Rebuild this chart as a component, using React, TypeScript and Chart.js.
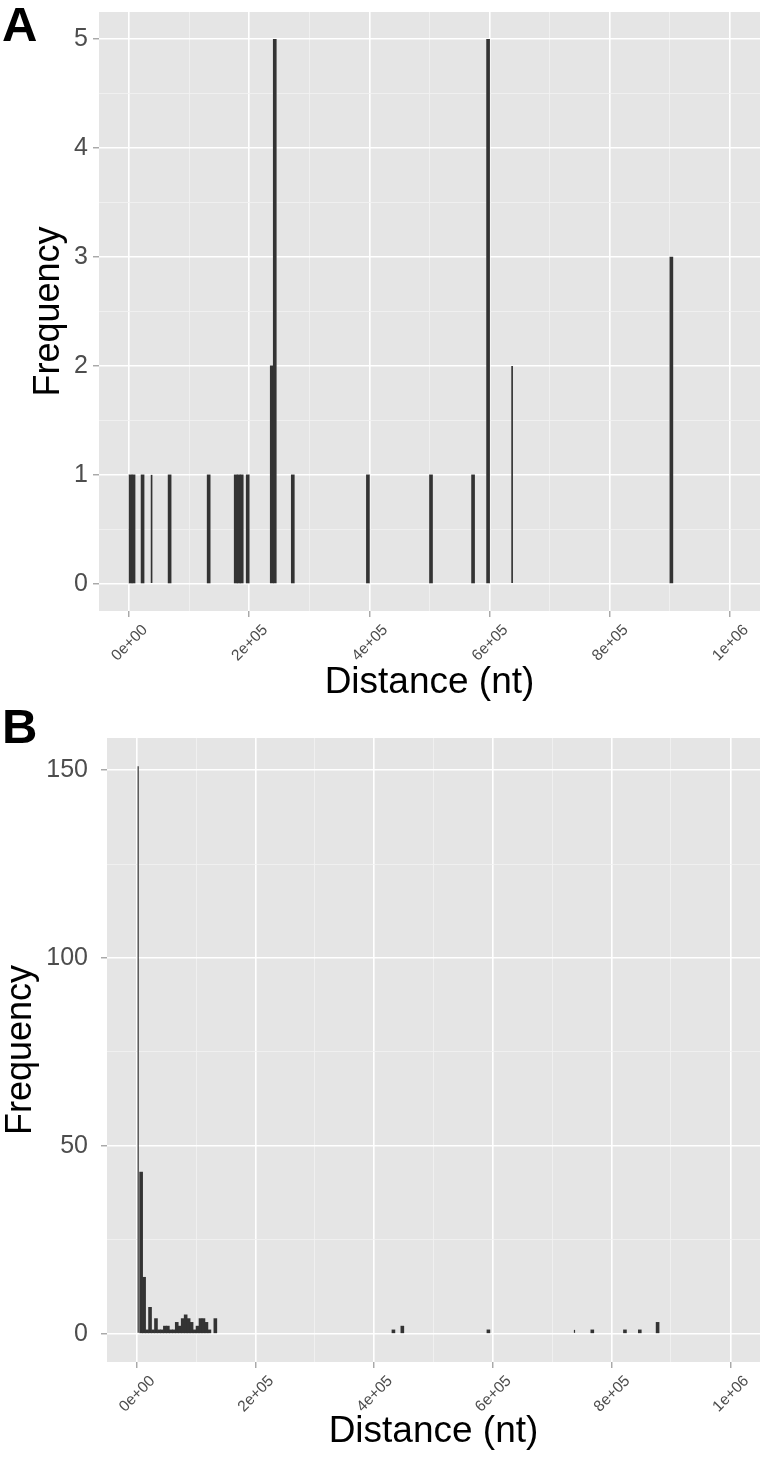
import React, { useEffect, useRef } from 'react';
import { Chart, registerables } from 'chart.js';

Chart.register(...registerables);

// ---------- shared axis data ----------
const BIN_WIDTH = 5000;
const X_MIN = -50000;
const X_MAX = 1050000;
const X_MAJOR_TICKS = [0, 200000, 400000, 600000, 800000, 1000000];
const X_MAJOR_LABELS = ['0e+00', '2e+05', '4e+05', '6e+05', '8e+05', '1e+06'];
const X_MINOR_TICKS = [100000, 300000, 500000, 700000, 900000];
const X_TITLE = 'Distance (nt)';
const Y_TITLE = 'Frequency';

// ---------- panel A ----------
const A_BIN_STARTS = [0, 5000, 20000, 65000, 130000, 175000, 180000, 185000, 195000, 235000, 240000, 270000, 395000, 500000, 570000, 595000, 900000];
const A_COUNTS = [1, 1, 1, 1, 1, 1, 1, 1, 1, 2, 5, 1, 1, 1, 1, 5, 3];
const A_THIN_BIN_STARTS = [35000, 635000];
const A_THIN_COUNTS = [1, 2];
const A_Y_MIN = -0.25;
const A_Y_MAX = 5.25;
const A_Y_MAJOR = [0, 1, 2, 3, 4, 5];
const A_Y_LABELS = ['0', '1', '2', '3', '4', '5'];
const A_Y_MINOR = [0.5, 1.5, 2.5, 3.5, 4.5];

// ---------- panel B ----------
const B_BIN_STARTS = [5000, 10000, 15000, 20000, 25000, 30000, 35000, 40000, 45000, 50000, 55000, 60000, 65000, 70000, 75000, 80000, 85000, 90000, 95000, 100000, 105000, 110000, 115000, 120000, 130000, 430000, 445000, 590000, 765000, 820000, 845000, 875000];
const B_COUNTS = [43, 15, 1, 7, 1, 4, 1, 1, 2, 2, 1, 1, 3, 2, 4, 5, 4, 3, 1, 2, 4, 4, 3, 1, 4, 1, 2, 1, 1, 1, 1, 3];
const B_THIN_BIN_STARTS = [0, 735000];
const B_THIN_COUNTS = [151, 1];
const B_Y_MIN = -7.55;
const B_Y_MAX = 158.55;
const B_Y_MAJOR = [0, 50, 100, 150];
const B_Y_LABELS = ['0', '50', '100', '150'];
const B_Y_MINOR = [25, 75, 125];

// ---------- style ----------
const FONT = '"Liberation Sans", Arial, Helvetica, sans-serif';
const PANEL_BG = '#E5E5E5';
const MAJOR_GRID = '#FFFFFF';
const MINOR_GRID = '#F2F2F2';
const BAR_COLOR = '#333333';
const TICK_TEXT = '#4D4D4D';
const TICK_MARK = '#8C8C8C';

type PanelSpec = {
  binStarts: number[];
  counts: number[];
  thinStarts: number[];
  thinCounts: number[];
  thinPct: number;
  yMin: number;
  yMax: number;
  yMajor: number[];
  yLabels: string[];
  yMinor: number[];
  width: number;
  height: number;
  padTop: number;
  yAxisWidth: number;
  xAxisHeight: number;
  yTickPadding: number;
  yTitlePad: number;
  xTitlePad: number;
};

const panelBg = {
  id: 'panelBg',
  beforeDraw(chart: any) {
    const { ctx, chartArea: a } = chart;
    ctx.save();
    ctx.fillStyle = PANEL_BG;
    ctx.fillRect(a.left, a.top, a.right - a.left, a.bottom - a.top);
    ctx.restore();
  },
};

function gridOpts(minor: number[]) {
  const isMinor = (c: any) => c && c.tick && minor.includes(c.tick.value);
  return {
    offset: false,
    drawOnChartArea: true,
    drawTicks: true,
    tickLength: 6,
    color: (c: any) => (isMinor(c) ? MINOR_GRID : MAJOR_GRID),
    lineWidth: (c: any) => (isMinor(c) ? 0.8 : 1.6),
    tickColor: (c: any) => (isMinor(c) ? 'rgba(0,0,0,0)' : TICK_MARK),
    tickWidth: 1.1,
  };
}

function HistPanel({ spec, top }: { spec: PanelSpec; top: number }) {
  const ref = useRef<HTMLCanvasElement | null>(null);
  useEffect(() => {
    if (!ref.current) return;
    const mainData = spec.binStarts.map((s, i) => ({ x: s + BIN_WIDTH / 2, y: spec.counts[i] }));
    const thinData = spec.thinStarts.map((s, i) => ({ x: s + BIN_WIDTH / 2, y: spec.thinCounts[i] }));
    const xTicks = [...X_MAJOR_TICKS, ...X_MINOR_TICKS].sort((a, b) => a - b);
    const yTicks = [...spec.yMajor, ...spec.yMinor].sort((a, b) => a - b);
    const chart = new Chart(ref.current, {
      type: 'bar',
      data: {
        datasets: [
          {
            data: mainData as any,
            backgroundColor: BAR_COLOR,
            borderWidth: 0,
            grouped: false,
            barPercentage: 1,
            categoryPercentage: 1,
          } as any,
          {
            data: thinData as any,
            backgroundColor: BAR_COLOR,
            borderWidth: 0,
            grouped: false,
            barPercentage: spec.thinPct,
            categoryPercentage: 1,
          } as any,
        ],
      },
      options: {
        responsive: false,
        animation: false,
        events: [],
        layout: { padding: { top: spec.padTop, right: 3, left: 0, bottom: 0 } },
        plugins: { legend: { display: false }, tooltip: { enabled: false } },
        scales: {
          x: {
            type: 'linear',
            min: X_MIN,
            max: X_MAX,
            offset: false,
            afterBuildTicks: (scale: any) => {
              scale.ticks = xTicks.map((v) => ({ value: v }));
            },
            afterFit: (scale: any) => {
              scale.height = spec.xAxisHeight;
              scale.paddingLeft = 0;
              scale.paddingRight = 0;
            },
            grid: gridOpts(X_MINOR_TICKS) as any,
            border: { display: false },
            ticks: {
              autoSkip: false,
              minRotation: 45,
              maxRotation: 45,
              padding: 4,
              labelOffset: 16,
              color: TICK_TEXT,
              font: { family: FONT, size: 15.5 },
              callback: (v: any) => {
                const i = X_MAJOR_TICKS.indexOf(Number(v));
                return i >= 0 ? X_MAJOR_LABELS[i] : '';
              },
            },
            title: {
              display: true,
              text: X_TITLE,
              color: '#000000',
              font: { family: FONT, size: 37, lineHeight: 1 },
              padding: { top: 0, bottom: spec.xTitlePad },
            },
          },
          y: {
            type: 'linear',
            min: spec.yMin,
            max: spec.yMax,
            afterBuildTicks: (scale: any) => {
              scale.ticks = yTicks.map((v) => ({ value: v }));
            },
            afterFit: (scale: any) => {
              scale.width = spec.yAxisWidth;
              scale.paddingTop = 0;
              scale.paddingBottom = 0;
            },
            grid: gridOpts(spec.yMinor) as any,
            border: { display: false },
            ticks: {
              autoSkip: false,
              padding: spec.yTickPadding,
              color: TICK_TEXT,
              font: { family: FONT, size: 25 },
              callback: (v: any) => {
                const i = spec.yMajor.indexOf(Number(v));
                return i >= 0 ? spec.yLabels[i] : '';
              },
            },
            title: {
              display: true,
              text: Y_TITLE,
              color: '#000000',
              font: { family: FONT, size: 36, lineHeight: 1 },
              padding: { top: spec.yTitlePad, bottom: 0 },
            },
          },
        },
      } as any,
      plugins: [panelBg],
    });
    return () => chart.destroy();
  }, [spec]);
  return (
    <canvas
      ref={ref}
      width={spec.width}
      height={spec.height}
      style={{ position: 'absolute', left: 0, top, width: spec.width, height: spec.height, display: 'block' }}
    />
  );
}

const SPEC_A: PanelSpec = {
  binStarts: A_BIN_STARTS,
  counts: A_COUNTS,
  thinStarts: A_THIN_BIN_STARTS,
  thinCounts: A_THIN_COUNTS,
  thinPct: 0.55,
  yMin: A_Y_MIN,
  yMax: A_Y_MAX,
  yMajor: A_Y_MAJOR,
  yLabels: A_Y_LABELS,
  yMinor: A_Y_MINOR,
  width: 763,
  height: 705,
  padTop: 12,
  yAxisWidth: 99,
  xAxisHeight: 94,
  yTickPadding: 5,
  yTitlePad: 31,
  xTitlePad: 3.5,
};

const SPEC_B: PanelSpec = {
  binStarts: B_BIN_STARTS,
  counts: B_COUNTS,
  thinStarts: B_THIN_BIN_STARTS,
  thinCounts: B_THIN_COUNTS,
  thinPct: 0.4,
  yMin: B_Y_MIN,
  yMax: B_Y_MAX,
  yMajor: B_Y_MAJOR,
  yLabels: B_Y_LABELS,
  yMinor: B_Y_MINOR,
  width: 763,
  height: 752,
  padTop: 33,
  yAxisWidth: 107,
  xAxisHeight: 95,
  yTickPadding: 13,
  yTitlePad: 3,
  xTitlePad: 7,
};

const letterStyle: React.CSSProperties = {
  position: 'absolute',
  left: 2,
  fontFamily: FONT,
  fontWeight: 'bold',
  fontSize: 49,
  lineHeight: '49px',
  color: '#000',
  margin: 0,
};

export default function App() {
  return (
    <div style={{ position: 'absolute', left: 0, top: 0, width: 763, height: 1457, background: '#ffffff', overflow: 'hidden' }}>
      <HistPanel spec={SPEC_A} top={0} />
      <HistPanel spec={SPEC_B} top={705} />
      <div style={{ ...letterStyle, top: 0 }}>A</div>
      <div style={{ ...letterStyle, top: 702 }}>B</div>
    </div>
  );
}
